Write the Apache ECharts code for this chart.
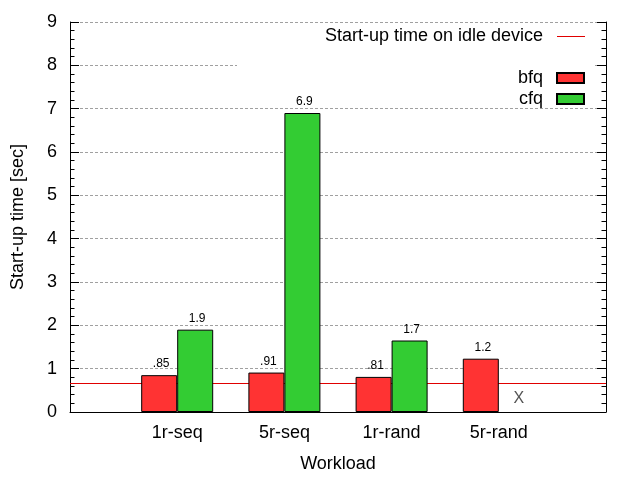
<!DOCTYPE html>
<html>
<head>
<meta charset="utf-8">
<script src="https://cdn.jsdelivr.net/npm/echarts@6/dist/echarts.min.js"></script>
<style>html,body{margin:0;padding:0;background:#fff}#c{width:640px;height:480px}</style>
</head>
<body>
<div id="c"></div>
<script>
const categories = ['1r-seq', '5r-seq', '1r-rand', '5r-rand'];
const bfq = [0.85, 0.91, 0.81, 1.23];
const cfq = [1.9, 6.9, 1.65, 0];
const bfqLabels = ['.85', '.91', '.81', '1.2'];
const cfqLabels = ['1.9', '6.9', '1.7', 'X'];
const idleTime = 0.66;
const yMin = 0, yMax = 9, yInterval = 1;

const FONT = 'Liberation Sans, Arial, sans-serif';
const axisCats = [''].concat(categories, ['']);
function buildData(values, labels) {
  return [null].concat(values.map((v, i) => labels[i] === 'X'
    ? {value: v, itemStyle: {borderWidth: 0}, label: {fontSize: 16, color: '#555'}}
    : v), [null]);
}

const chart = echarts.init(document.getElementById('c'), null, {renderer: 'canvas'});
const gridLeft = 70, gridTop = 22, gridRight = 34, gridBottom = 68;

const yCommon = {
  type: 'value', min: yMin, max: yMax, interval: yInterval,
  axisLine: {show: true, lineStyle: {color: '#000', width: 1}},
  axisTick: {show: true, inside: true, length: 9, lineStyle: {color: '#000'}},
  minorTick: {show: true, splitNumber: 5, length: 4.5, lineStyle: {color: '#000'}}
};

chart.setOption({
  animation: false,
  backgroundColor: '#fff',
  textStyle: {fontFamily: FONT},
  grid: {left: gridLeft, top: gridTop, right: gridRight, bottom: gridBottom, containLabel: false},
  graphic: [{
    type: 'rect', z: 1,
    shape: {x: 237, y: 25, width: 356, height: 81},
    style: {fill: '#fff'}
  }],
  legend: [{
    data: [{name: 'Start-up time on idle device', icon: 'rect'}],
    right: 55, top: 27.5, padding: 0, align: 'right',
    itemWidth: 28, itemHeight: 1,
    textStyle: {fontSize: 18, color: '#000', fontFamily: FONT, padding: [0, 9, 0, 0]},
    selectedMode: false
  }, {
    data: [{name: 'bfq', icon: 'rect'}, {name: 'cfq', icon: 'rect'}],
    orient: 'vertical', right: 55, top: 69, padding: 0, align: 'right',
    itemWidth: 27, itemHeight: 10, itemGap: 3,
    textStyle: {fontSize: 18, color: '#000', fontFamily: FONT, padding: [0, 9, 0, 0]},
    selectedMode: false
  }],
  xAxis: {
    type: 'category', data: axisCats, boundaryGap: false,
    name: 'Workload', nameLocation: 'middle', nameGap: 43,
    nameTextStyle: {fontSize: 18, color: '#000', fontFamily: FONT},
    axisLine: {show: true, lineStyle: {color: '#000', width: 1}},
    axisTick: {show: false},
    axisLabel: {interval: 0, fontSize: 18, color: '#000', margin: 12, fontFamily: FONT},
    splitLine: {show: false}
  },
  yAxis: [Object.assign({}, yCommon, {
    position: 'left',
    name: 'Start-up time [sec]', nameLocation: 'middle', nameGap: 43,
    nameTextStyle: {fontSize: 18, color: '#000', fontFamily: FONT},
    axisLabel: {fontSize: 18, color: '#000', margin: 13, fontFamily: FONT},
    splitLine: {show: true, lineStyle: {color: '#a0a0a0', type: [3, 2], width: 1}}
  }), Object.assign({}, yCommon, {
    position: 'right',
    axisLabel: {show: false},
    splitLine: {show: false}
  })],
  series: [{
    name: 'Start-up time on idle device', type: 'line', data: [], z: 1,
    symbol: 'none',
    itemStyle: {color: '#e00000'},
    lineStyle: {color: '#e00000', width: 1},
    markLine: {
      silent: true, symbol: 'none', z: 1,
      label: {show: false},
      lineStyle: {color: '#e00000', width: 1, type: 'solid'},
      data: [{yAxis: idleTime}]
    }
  }, {
    name: 'bfq', type: 'bar', data: buildData(bfq, bfqLabels), barWidth: 36, barGap: '0%', z: 2,
    itemStyle: {color: '#ff3333', borderColor: '#000', borderWidth: 1},
    label: {show: true, position: 'top', distance: 5, offset: [2, 0], fontSize: 12, color: '#000', fontFamily: FONT,
      formatter: p => bfqLabels[p.dataIndex - 1]}
  }, {
    name: 'cfq', type: 'bar', data: buildData(cfq, cfqLabels), barWidth: 36, barGap: '0%', z: 2,
    itemStyle: {color: '#33cc33', borderColor: '#000', borderWidth: 1},
    label: {show: true, position: 'top', distance: 5, offset: [2, 0], fontSize: 12, color: '#000', fontFamily: FONT,
      formatter: p => cfqLabels[p.dataIndex - 1]}
  }]
});
</script>
</body>
</html>
